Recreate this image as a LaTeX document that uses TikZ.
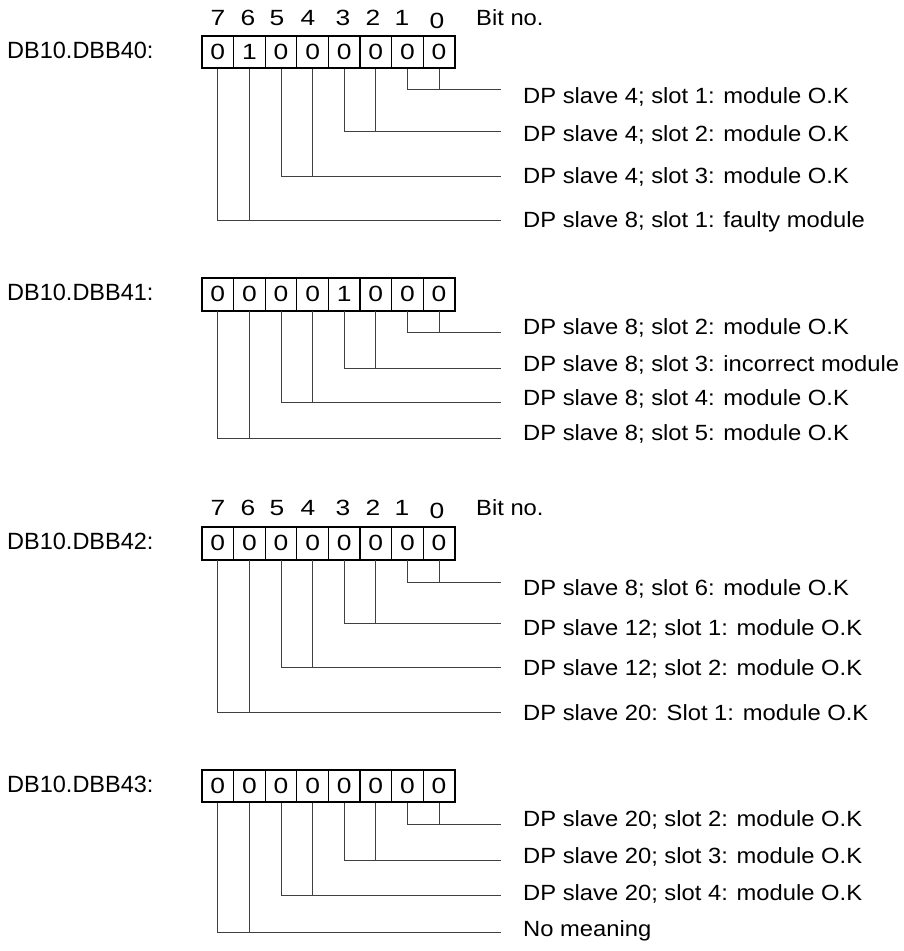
\documentclass[tikz,border=0pt]{standalone}
\usepackage{fontspec}
\setmainfont{Liberation Sans}[FakeStretch=1.08]
\newfontfamily\digfont{Liberation Sans}[FakeStretch=1.2]
\newfontfamily\lblfont{Liberation Sans}
\tikzset{
  cell/.style={draw, line width=1.1pt, minimum width=31.6pt, minimum height=32pt,
    inner sep=0pt, font={\digfont\fontsize{22}{26}\selectfont}},
  boxframe/.style={line width=1.6pt},
  wire/.style={line width=0.9pt, draw=black!75},
  desc/.style={anchor=base west, inner sep=0pt, font={\fontsize{22}{26}\selectfont}},
  bitnum/.style={anchor=base, inner sep=0pt, font={\digfont\fontsize{22}{26}\selectfont}},
  bitword/.style={anchor=base west, inner sep=0pt, font={\fontsize{22}{26}\selectfont}},
  dblabel/.style={anchor=base west, inner sep=0pt, font={\lblfont\fontsize{23.5}{28}\selectfont}}
}
\newcommand{\mkrow}[3]{%
  \foreach \v [count=\i from 0] in {#3} {
    \pgfmathtruncatemacro\bit{7-\i}
    \node[cell] (#1-\bit) at ({202+31.6*(\i+0.5)}, {#2+16}) {\v};
  }
  \draw[boxframe] (#1-7.north west) rectangle (#1-0.south east);
}
\newcommand{\mkpair}[6]{%
  \coordinate (#1-e#3) at (501,#4);
  \draw[wire] (#1-#2.south) |- (#1-e#3);
  \draw[wire] (#1-#3.south) -- (#1-#3.south |- #1-e#3);
  \node[desc] (#1-t#3) at (523,#5) {#6};
}
\newcommand{\mkbits}[2]{%
  \foreach \n/\x/\dy in {7/218/0,6/248/0,5/277/0,4/308/0,3/343/0,2/373/0,1/402/0,0/437/3.3}
    \node[bitnum] (#1-n\n) at (\x,{#2+\dy}) {\n};
  \node[bitword] (#1-bitno) at (476,#2) {Bit no.};
}
\begin{document}
\begin{tikzpicture}[x=1pt,y=-1pt]
\useasboundingbox (0,0) rectangle (903,951);

% Block 1
\node[dblabel] (l1) at (7,58.3) {DB10.DBB40:};
\mkbits{h1}{25}
\mkrow{r1}{36}{0,1,0,0,0,0,0,0}
\mkpair{r1}{1}{0}{89.5}{103.3}{DP slave 4; slot 1: module O.K}
\mkpair{r1}{3}{2}{131}{141.7}{DP slave 4; slot 2: module O.K}
\mkpair{r1}{5}{4}{176}{183.3}{DP slave 4; slot 3: module O.K}
\mkpair{r1}{7}{6}{220}{227.7}{DP slave 8; slot 1: faulty module}

% Block 2
\node[dblabel] (l2) at (7,300.5) {DB10.DBB41:};
\mkrow{r2}{278.3}{0,0,0,0,1,0,0,0}
\mkpair{r2}{1}{0}{332.5}{334.3}{DP slave 8; slot 2: module O.K}
\mkpair{r2}{3}{2}{368}{371}{DP slave 8; slot 3: incorrect module}
\mkpair{r2}{5}{4}{402}{405}{DP slave 8; slot 4: module O.K}
\mkpair{r2}{7}{6}{438}{440}{DP slave 8; slot 5: module O.K}

% Block 3
\node[dblabel] (l3) at (7,549.3) {DB10.DBB42:};
\mkbits{h3}{515}
\mkrow{r3}{527.3}{0,0,0,0,0,0,0,0}
\mkpair{r3}{1}{0}{582.5}{595}{DP slave 8; slot 6: module O.K}
\mkpair{r3}{3}{2}{623}{635}{DP slave 12; slot 1: module O.K}
\mkpair{r3}{5}{4}{667.5}{675}{DP slave 12; slot 2: module O.K}
\mkpair{r3}{7}{6}{712}{720}{DP slave 20: Slot 1: module O.K}

% Block 4
\node[dblabel] (l4) at (7,792) {DB10.DBB43:};
\mkrow{r4}{770}{0,0,0,0,0,0,0,0}
\mkpair{r4}{1}{0}{824}{826.7}{DP slave 20; slot 2: module O.K}
\mkpair{r4}{3}{2}{860}{863.3}{DP slave 20; slot 3: module O.K}
\mkpair{r4}{5}{4}{895}{900}{DP slave 20; slot 4: module O.K}
\mkpair{r4}{7}{6}{932}{936.7}{No meaning}
\end{tikzpicture}
\end{document}
